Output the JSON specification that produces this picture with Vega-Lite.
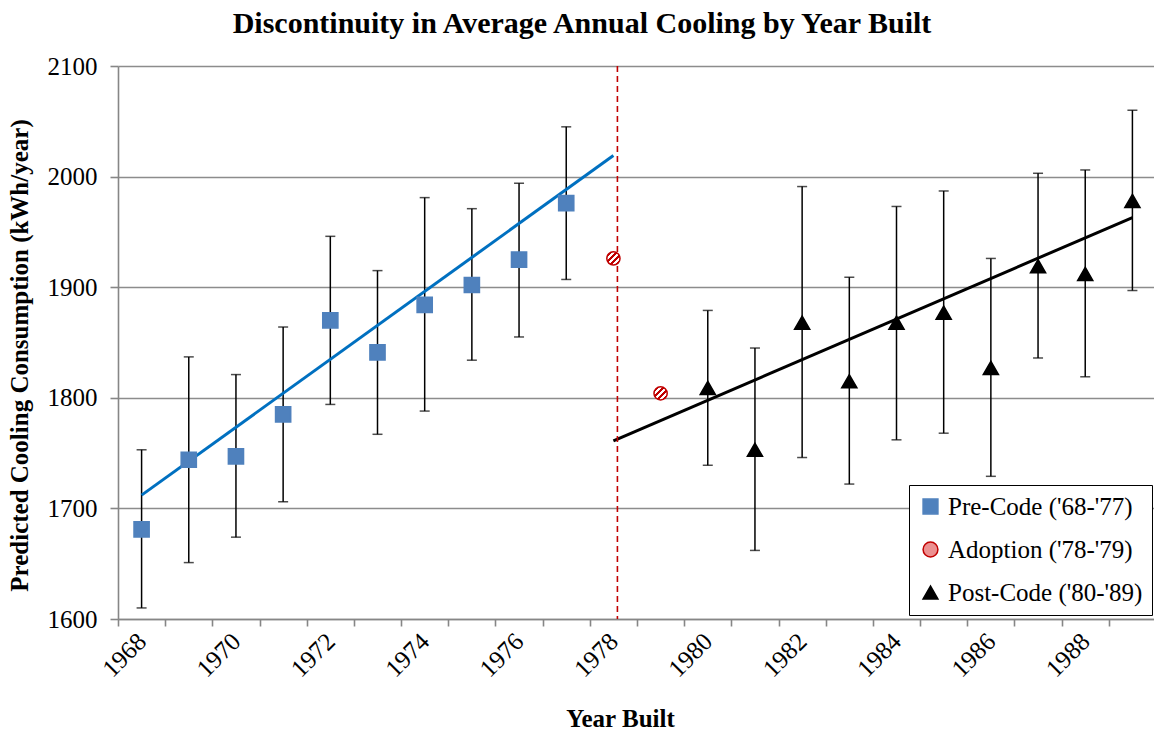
{
  "$schema": "https://vega.github.io/schema/vega-lite/v6.json",
  "autosize": {"type": "none"},
  "width": 1038,
  "height": 553,
  "padding": {"left": 118, "top": 66, "right": 0, "bottom": 115},
  "background": "white",
  "title": {
    "text": "Discontinuity in Average Annual Cooling by Year Built",
    "font": "Liberation Serif",
    "fontSize": 30,
    "fontWeight": "bold",
    "color": "#000000",
    "anchor": "middle",
    "frame": "group",
    "baseline": "alphabetic",
    "offset": 20,
    "dy": 29,
    "dx": -55
  },
  "config": {
    "view": {"stroke": null},
    "font": "Liberation Serif",
    "axis": {
      "labelFont": "Liberation Serif",
      "titleFont": "Liberation Serif",
      "labelFontSize": 25,
      "titleFontSize": 25,
      "titleFontWeight": "bold",
      "labelColor": "#000000",
      "titleColor": "#000000",
      "domainColor": "#868686",
      "tickColor": "#868686",
      "gridColor": "#8c8c8c",
      "domainWidth": 1.6,
      "tickWidth": 1.6,
      "gridWidth": 1.4
    },
    "legend": {
      "labelFont": "Liberation Serif",
      "labelFontSize": 25,
      "labelColor": "#000000"
    }
  },
  "datasets": {
    "pts": [
      {"year": 1968, "group": "Pre-Code ('68-'77)", "value": 1681, "lo": 1610, "hi": 1753},
      {"year": 1969, "group": "Pre-Code ('68-'77)", "value": 1744, "lo": 1651, "hi": 1837},
      {"year": 1970, "group": "Pre-Code ('68-'77)", "value": 1747, "lo": 1674, "hi": 1821},
      {"year": 1971, "group": "Pre-Code ('68-'77)", "value": 1785, "lo": 1706, "hi": 1864},
      {"year": 1972, "group": "Pre-Code ('68-'77)", "value": 1870, "lo": 1794, "hi": 1946},
      {"year": 1973, "group": "Pre-Code ('68-'77)", "value": 1841, "lo": 1767, "hi": 1915},
      {"year": 1974, "group": "Pre-Code ('68-'77)", "value": 1884, "lo": 1788, "hi": 1981},
      {"year": 1975, "group": "Pre-Code ('68-'77)", "value": 1902, "lo": 1834, "hi": 1971},
      {"year": 1976, "group": "Pre-Code ('68-'77)", "value": 1925, "lo": 1855, "hi": 1994},
      {"year": 1977, "group": "Pre-Code ('68-'77)", "value": 1976, "lo": 1907, "hi": 2045},
      {"year": 1978, "group": "Adoption ('78-'79)", "value": 1926},
      {"year": 1979, "group": "Adoption ('78-'79)", "value": 1804},
      {"year": 1980, "group": "Post-Code ('80-'89)", "value": 1809, "lo": 1739, "hi": 1879},
      {"year": 1981, "group": "Post-Code ('80-'89)", "value": 1753, "lo": 1662, "hi": 1845},
      {"year": 1982, "group": "Post-Code ('80-'89)", "value": 1868, "lo": 1746, "hi": 1991},
      {"year": 1983, "group": "Post-Code ('80-'89)", "value": 1815, "lo": 1722, "hi": 1909},
      {"year": 1984, "group": "Post-Code ('80-'89)", "value": 1868, "lo": 1762, "hi": 1973},
      {"year": 1985, "group": "Post-Code ('80-'89)", "value": 1877, "lo": 1768, "hi": 1987},
      {"year": 1986, "group": "Post-Code ('80-'89)", "value": 1827, "lo": 1729, "hi": 1926},
      {"year": 1987, "group": "Post-Code ('80-'89)", "value": 1919, "lo": 1836, "hi": 2003},
      {"year": 1988, "group": "Post-Code ('80-'89)", "value": 1912, "lo": 1819, "hi": 2006},
      {"year": 1989, "group": "Post-Code ('80-'89)", "value": 1978, "lo": 1897, "hi": 2060}
    ],
    "fits": [
      {"year": 1968, "seg": "pre", "fit": 1712},
      {"year": 1978, "seg": "pre", "fit": 2019},
      {"year": 1978, "seg": "post", "fit": 1761},
      {"year": 1989, "seg": "post", "fit": 1963}
    ]
  },
  "encoding": {
    "x": {
      "field": "year",
      "type": "ordinal",
      "title": "Year Built",
      "scale": {
        "type": "band",
        "domain": [1968,1969,1970,1971,1972,1973,1974,1975,1976,1977,1978,1979,1980,1981,1982,1983,1984,1985,1986,1987,1988,1989],
        "paddingInner": 0,
        "paddingOuter": 0
      },
      "axis": {
        "labelExpr": "datum.value % 2 === 0 ? datum.label : ''",
        "labelAngle": -45,
        "labelAlign": "right",
        "labelBaseline": "middle",
        "labelPadding": 11,
        "labelFont": "Liberation Serif",
        "tickBand": "extent",
        "tickSize": 7,
        "grid": false,
        "titleX": 502,
        "titleY": 107,
        "titleBaseline": "alphabetic",
        "titleAnchor": null
      }
    }
  },
  "layer": [
    {
      "data": {"name": "pts"},
      "transform": [{"filter": "isValid(datum.lo)"}],
      "mark": {"type": "rule", "color": "#000000", "strokeWidth": 1.5},
      "encoding": {
        "y": {"field": "lo", "type": "quantitative"},
        "y2": {"field": "hi"}
      }
    },
    {
      "data": {"name": "pts"},
      "transform": [{"filter": "isValid(datum.lo)"}],
      "mark": {"type": "tick", "color": "#000000", "size": 10, "thickness": 1.5, "orient": "horizontal"},
      "encoding": {
        "y": {"field": "lo", "type": "quantitative"}
      }
    },
    {
      "data": {"name": "pts"},
      "transform": [{"filter": "isValid(datum.hi)"}],
      "mark": {"type": "tick", "color": "#000000", "size": 10, "thickness": 1.5, "orient": "horizontal"},
      "encoding": {
        "y": {"field": "hi", "type": "quantitative"}
      }
    },
    {
      "data": {"name": "fits"},
      "transform": [{"filter": "datum.seg === 'pre'"}],
      "mark": {"type": "line", "color": "#0070c0", "strokeWidth": 3},
      "encoding": {
        "y": {"field": "fit", "type": "quantitative"}
      }
    },
    {
      "data": {"name": "fits"},
      "transform": [{"filter": "datum.seg === 'post'"}],
      "mark": {"type": "line", "color": "#000000", "strokeWidth": 3},
      "encoding": {
        "y": {"field": "fit", "type": "quantitative"}
      }
    },
    {
      "data": {"values": [{"year": 1978}]},
      "mark": {"type": "rule", "color": "#c00000", "strokeWidth": 1.6, "strokeDash": [6, 4], "xOffset": 4},
      "encoding": {}
    },
    {
      "data": {"name": "pts"},
      "transform": [{"filter": "datum.year !== 1978 && datum.year !== 1979"}],
      "mark": {"type": "point", "filled": true, "strokeWidth": 1.5, "opacity": 1, "size": 230},
      "encoding": {
        "y": {
          "field": "value",
          "type": "quantitative",
          "title": "Predicted Cooling Consumption (kWh/year)",
          "scale": {"domain": [1600, 2100], "nice": false, "zero": false},
          "axis": {
            "values": [1600, 1700, 1800, 1900, 2000, 2100],
            "format": "d",
            "labelFont": "Liberation Serif",
            "grid": true,
            "tickSize": 8,
            "labelPadding": 13,
            "titlePadding": 15,
            "titleY": 289
          }
        },
        "fill": {
          "field": "group",
          "type": "nominal",
          "title": null,
          "scale": {
            "domain": ["Pre-Code ('68-'77)", "Adoption ('78-'79)", "Post-Code ('80-'89)"],
            "range": ["#4f81bd", "#ec9090", "#000000"]
          },
          "legend": {
            "orient": "bottom-right",
            "offset": 4,
            "padding": 9,
            "fillColor": "#ffffff",
            "strokeColor": "#000000",
            "rowPadding": 17,
            "symbolSize": 220,
            "symbolStrokeWidth": 1.5,
            "labelOffset": 5,
            "labelLimit": 400,
            "labelFont": "Liberation Serif",
            "labelFontSize": 25
          }
        },
        "stroke": {
          "field": "group",
          "type": "nominal",
          "title": null,
          "scale": {
            "domain": ["Pre-Code ('68-'77)", "Adoption ('78-'79)", "Post-Code ('80-'89)"],
            "range": ["#4f81bd", "#c00000", "#000000"]
          }
        },
        "shape": {
          "field": "group",
          "type": "nominal",
          "title": null,
          "scale": {
            "domain": ["Pre-Code ('68-'77)", "Adoption ('78-'79)", "Post-Code ('80-'89)"],
            "range": ["square", "circle", "triangle-up"]
          }
        }
      }
    },
    {
      "data": {"name": "pts"},
      "transform": [{"filter": "datum.year === 1978 || datum.year === 1979"}],
      "mark": {
        "type": "point",
        "shape": "circle",
        "size": 175,
        "strokeWidth": 1.5,
        "stroke": "#c00000",
        "opacity": 1,
        "fill": {"gradient": "linear", "x1": 0, "y1": 0, "x2": 1, "y2": 1, "stops": [
          {"offset": 0, "color": "#c00000"},
          {"offset": 0.22, "color": "#c00000"},
          {"offset": 0.22, "color": "#ffffff"},
          {"offset": 0.33, "color": "#ffffff"},
          {"offset": 0.33, "color": "#c00000"},
          {"offset": 0.45, "color": "#c00000"},
          {"offset": 0.45, "color": "#ffffff"},
          {"offset": 0.56, "color": "#ffffff"},
          {"offset": 0.56, "color": "#c00000"},
          {"offset": 0.67, "color": "#c00000"},
          {"offset": 0.67, "color": "#ffffff"},
          {"offset": 0.78, "color": "#ffffff"},
          {"offset": 0.78, "color": "#c00000"},
          {"offset": 1, "color": "#c00000"}
        ]}
      },
      "encoding": {
        "y": {"field": "value", "type": "quantitative"}
      }
    }
  ]
}
